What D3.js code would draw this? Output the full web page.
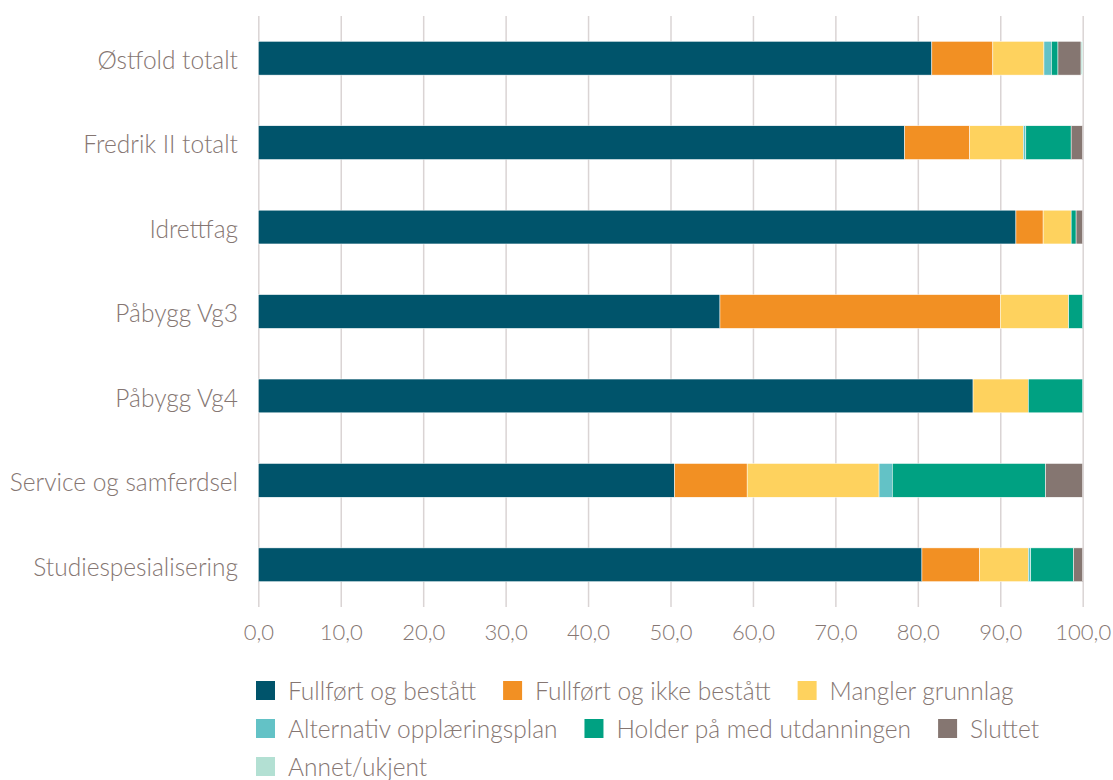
<!DOCTYPE html>
<html>
<head>
	<title>Gjennomføring</title>
	<script src="https://d3js.org/d3.v7.min.js"></script>
	<style>
		body{ margin:0; background:#fff;}
		body, text{ font-family: 'Lato', sans-serif; font-weight:300;}
		.tick text{ fill:#857672; font-size:22px;}
		.cat{ fill:#857672; font-size:24.5px;}
		.leg{ fill:#857672; font-size:24.5px;}
	</style>
</head>
<body>
	<div class="chart"></div>
	<script>
		const categories = ['Østfold totalt','Fredrik II totalt','Idrettfag','Påbygg Vg3','Påbygg Vg4','Service og samferdsel','Studiespesialisering'];
		const seriesNames = ['Fullført og bestått','Fullført og ikke bestått','Mangler grunnlag','Alternativ opplæringsplan','Holder på med utdanningen','Sluttet','Annet/ukjent'];
		const colors = ['#00546B','#F29023','#FED25E','#63C2C6','#00A182','#857671','#B3E0D3'];
		const fullfortBestatt     = [81.7, 78.4, 91.9, 56.0, 86.7, 50.5, 80.5];
		const fullfortIkkeBestatt = [ 7.4,  7.9,  3.3, 34.0,  0.0,  8.8,  7.0];
		const manglerGrunnlag     = [ 6.2,  6.5,  3.4,  8.3,  6.7, 16.0,  5.9];
		const alternativPlan      = [ 0.9,  0.3,  0.0,  0.0,  0.0,  1.6,  0.3];
		const holderPa            = [ 0.8,  5.5,  0.6,  1.7,  6.6, 18.6,  5.2];
		const sluttet             = [ 2.8,  1.4,  0.8,  0.0,  0.0,  4.5,  1.1];
		const annet               = [ 0.2,  0.0,  0.0,  0.0,  0.0,  0.0,  0.0];
		const ticks = [0,10,20,30,40,50,60,70,80,90,100];

		const seriesValues = [fullfortBestatt, fullfortIkkeBestatt, manglerGrunnlag, alternativPlan, holderPa, sluttet, annet];
		const rows = categories.map((c,i) => {
			const r = {cat:c};
			seriesNames.forEach((s,j) => r[s] = seriesValues[j][i]);
			return r;
		});

		const svg = d3.select('.chart').append('svg').attr('width',1113).attr('height',780);

		const x = d3.scaleLinear().domain([0,100]).range([258.3,1082.7]);
		const y = d3.scaleBand().domain(categories).range([16,607]).paddingInner(0.6).paddingOuter(0.3);
		const color = d3.scaleOrdinal().domain(seriesNames).range(colors);

		// gridlines + tick labels
		const xAxis = d3.axisBottom(x).tickValues(ticks).tickSize(-(607-16))
						.tickFormat(d => d3.format('.1f')(d).replace('.',','));
		const gx = svg.append('g').attr('transform','translate(0,607)').call(xAxis);
		gx.select('.domain').remove();
		gx.selectAll('.tick line').attr('stroke','#DAD4D4').attr('stroke-width',1.5);
		gx.selectAll('.tick text').attr('dy','1.35em');

		const stack = d3.stack().keys(seriesNames)(rows);

		svg.append('g').selectAll('g').data(stack).join('g')
			.attr('fill', d => color(d.key))
			.selectAll('rect').data(d => d).join('rect')
			.attr('x', d => x(d[0]))
			.attr('y', d => y(d.data.cat))
			.attr('width', d => x(d[1]) - x(d[0]))
			.attr('height', y.bandwidth())
			.attr('stroke','#fff').attr('stroke-width',0.5);

		svg.append('g').selectAll('text').data(categories).join('text')
			.attr('class','cat')
			.attr('x', 238)
			.attr('y', d => y(d) + y.bandwidth()/2)
			.attr('dy','0.44em')
			.attr('text-anchor','end')
			.text(d => d);

		// legend, flowing into rows
		const legend = svg.append('g');
		let lx = 256, ly = 681;
		seriesNames.forEach(s => {
			const item = legend.append('g');
			item.append('rect').attr('width',19).attr('height',19).attr('fill',color(s));
			const t = item.append('text').attr('class','leg').attr('x',32).attr('y',9.5).attr('dy','0.4em').text(s);
			const w = 32 + t.node().getComputedTextLength();
			if (lx + w > 1075) { lx = 256; ly += 38; }
			item.attr('transform',`translate(${lx},${ly})`);
			lx += w + 27;
		});
	</script>
</body>
</html>
